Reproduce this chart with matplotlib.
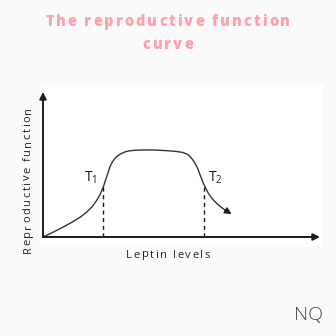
import matplotlib
matplotlib.use("Agg")
import matplotlib.pyplot as plt
from matplotlib.patches import Rectangle
from matplotlib.font_manager import FontProperties
from matplotlib.textpath import TextToPath

plt.rcParams['font.family'] = ['Open Sans', 'DejaVu Sans']
plt.rcParams['mathtext.fontset'] = 'custom'
plt.rcParams['mathtext.rm'] = 'Open Sans'
plt.rcParams['mathtext.default'] = 'regular'

# data (leptin level vs reproductive function, arbitrary 0-100 units)
leptin = [0, 3, 6.1, 8.5, 10.9, 13.5, 15.8, 17.8, 19.4, 20.7, 21.8, 22.4, 23.0, 23.6, 24.2, 25.0,
          26.0, 27.1, 28.4, 29.8, 31.4, 33.2, 35.0, 40.4, 45.8, 48.5, 50.5, 52.0, 53.1, 54.0,
          54.9, 55.9, 56.7, 57.3, 57.9, 58.8, 59.7, 61.1, 62.7, 64.2, 65.7, 68.1]
repro = [0, 2.7, 5.7, 8.1, 10.7, 13.8, 17.2, 21.0, 25.3, 29.7, 34.7, 38.2, 41.6, 45.1, 48.5, 51.6,
         54.3, 56.2, 57.7, 58.8, 59.5, 59.8, 60.0, 60.0, 59.4, 58.9, 58.3, 57.2, 55.5, 53.4,
         50.8, 47.1, 42.8, 39.9, 37.0, 33.5, 30.1, 26.4, 23.2, 20.7, 18.6, 15.9]
thresholds = [21.8, 58.1]
threshold_vals = [34.7, 36.2]
threshold_names = ["T$_1$", "T$_2$"]

title_lines = ["The reproductive function", "curve"]
xlabel = "Leptin levels"
ylabel = "Reproductive function"

W = H = 336
fig = plt.figure(figsize=(3.36, 3.36), dpi=100, facecolor="#fafafa")
t2p = TextToPath()


def tracked_text(x, y, s, size, tracking, color, weight="normal", vertical=False):
    # draw string letter by letter with extra spacing (pixel coords, center anchor)
    fp = FontProperties(family="Open Sans", size=size, weight=weight)
    base = t2p.get_text_width_height_descent("nn", fp, ismath=False)[0]
    adv = []
    for ch in s:
        w = t2p.get_text_width_height_descent("n" + ch + "n", fp, ismath=False)[0] - base
        adv.append(w * 100 / 72 + tracking)
    total = sum(adv) - tracking
    pos = -total / 2
    for ch, a in zip(s, adv):
        if vertical:
            fig.text(x / W, 1 - (y - pos) / H, ch, fontproperties=fp, color=color,
                     rotation=90, ha="center", va="bottom")
        else:
            fig.text((x + pos) / W, 1 - y / H, ch, fontproperties=fp, color=color,
                     ha="left", va="center")
        pos += a


# white panel behind the chart
fig.patches.append(Rectangle((40 / W, 89 / H), 283 / W, 163 / H, transform=fig.transFigure,
                             facecolor="white", edgecolor="none", zorder=-5))

ax = fig.add_axes([43 / W, 99 / H, 277 / W, 145 / H])
ax.set_zorder(2)
ax.set_xlim(0, 100)
ax.set_ylim(0, 100)
ax.axis("off")

# axes arrows
arrow_kw = dict(arrowstyle="-|>", color="#1a1a1a", lw=1.4, mutation_scale=10, shrinkA=0, shrinkB=0)
ax.annotate("", xy=(100, 0), xytext=(0, 0), arrowprops=arrow_kw, annotation_clip=False)
ax.annotate("", xy=(0, 100), xytext=(0, 0), arrowprops=arrow_kw, annotation_clip=False)

# curve
ax.plot(leptin[:-1], repro[:-1], color="#333333", lw=1.0, solid_capstyle="round",
        solid_joinstyle="round")
ax.annotate("", xy=(leptin[-1], repro[-1]), xytext=(leptin[-2], repro[-2]),
            arrowprops=dict(arrowstyle="-|>", color="#1a1a1a", lw=1.0, mutation_scale=10,
                            shrinkA=0, shrinkB=0))

# thresholds
for xt, yt, name, dx in zip(thresholds, threshold_vals, threshold_names, [-4.5, 4.0]):
    ax.plot([xt, xt], [0, yt], color="#1a1a1a", lw=1.0, ls=(0, (3, 2.5)))
    ax.text(xt + dx, 41, name, fontsize=10, color="#1a1a1a", ha="center", va="center")

# titles and labels
tracked_text(168, 22, title_lines[0], 10.5, 2.0, "#ffa0aa", weight=800)
tracked_text(168, 45, title_lines[1], 10.5, 2.0, "#ffa0aa", weight=800)
tracked_text(168, 255, xlabel, 8, 1.6, "#222222")
tracked_text(28, 180, ylabel, 8, 1.6, "#222222", vertical=True)

# logo
fig.text(308 / W, 1 - 315 / H, "NQ", fontsize=14, color="#444444", ha="center", va="center",
         fontweight="light")

fig.savefig("out.png", dpi=100, facecolor=fig.get_facecolor())
